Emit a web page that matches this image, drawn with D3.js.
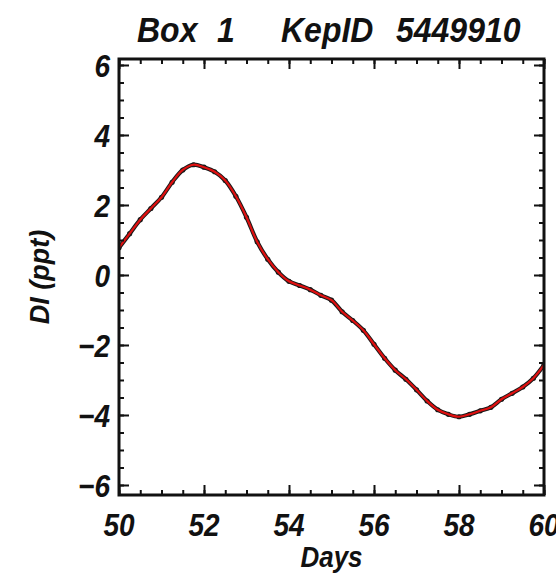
<!DOCTYPE html>
<html>
<head>
<meta charset="utf-8">
<script src="https://cdn.jsdelivr.net/npm/d3@7"></script>
<style>
  html, body { margin: 0; padding: 0; background: #ffffff; }
  svg { display: block; }
  text { font-family: "Liberation Sans", Arial, sans-serif; font-weight: bold; font-style: italic; fill: #111; }
</style>
</head>
<body>
<div id="chart"></div>
<script>
// ---- data ----
const days = [50.00, 50.25, 50.50, 50.75, 51.00, 51.25, 51.50, 51.75, 52.00, 52.25,
              52.50, 52.75, 53.00, 53.25, 53.50, 53.75, 54.00, 54.25, 54.50, 54.75,
              55.00, 55.25, 55.50, 55.75, 56.00, 56.25, 56.50, 56.75, 57.00, 57.25,
              57.50, 57.75, 58.00, 58.25, 58.50, 58.75, 59.00, 59.25, 59.50, 59.75, 60.00];
const dI = [0.78, 1.18, 1.58, 1.90, 2.22, 2.65, 3.00, 3.15, 3.08, 2.95,
            2.70, 2.25, 1.65, 0.95, 0.45, 0.08, -0.18, -0.30, -0.42, -0.58,
            -0.72, -1.05, -1.30, -1.58, -1.98, -2.38, -2.72, -2.98, -3.28, -3.60,
            -3.85, -3.98, -4.05, -3.98, -3.88, -3.78, -3.55, -3.38, -3.20, -2.95, -2.57];
const xTickValues = [50, 52, 54, 56, 58, 60];
const yTickValues = [-6, -4, -2, 0, 2, 4, 6];
const titleParts = ["Box", "1", "KepID", "5449910"];
const xLabel = "Days";
const yLabel = "DI (ppt)";

const W = 556, H = 578;
const plot = { left: 119, right: 544, top: 59, bottom: 495 };
const SY = 1.12; // vertical stretch of the lettering

const svg = d3.select("#chart").append("svg").attr("width", W).attr("height", H);

const x = d3.scaleLinear().domain([50, 60]).range([plot.left, plot.right]);
const y = d3.scaleLinear().domain([-6.286, 6.171]).range([plot.bottom, plot.top]);

const data = days.map((d, i) => ({ d, v: dI[i] }));

svg.append("clipPath").attr("id", "clip").append("rect")
  .attr("x", plot.left).attr("y", plot.top)
  .attr("width", plot.right - plot.left).attr("height", plot.bottom - plot.top);

const line = d3.line().x(p => x(p.d)).y(p => y(p.v)).curve(d3.curveCatmullRom.alpha(0.5));

const g = svg.append("g").attr("clip-path", "url(#clip)");
g.append("path").datum(data).attr("d", line)
  .attr("fill", "none").attr("stroke", "#1a1a1a").attr("stroke-width", 4.2)
  .attr("stroke-linejoin", "round");
g.selectAll("circle.pt").data(data).enter().append("circle")
  .attr("class", "pt").attr("cx", p => x(p.d)).attr("cy", p => y(p.v))
  .attr("r", 2.6).attr("fill", "#1a1a1a");
g.append("path").datum(data).attr("d", line)
  .attr("fill", "none").attr("stroke", "#e01010").attr("stroke-width", 2.2)
  .attr("stroke-linejoin", "round");

const xMinor = d3.range(50, 60.001, 0.5);
const yMinor = d3.range(-6, 6.001, 0.5);

function tickAxis(axisGen, transform) {
  const a = svg.append("g").attr("transform", transform).call(axisGen);
  a.select(".domain").remove();
  a.selectAll("line").attr("stroke", "#111").attr("stroke-width", 2);
  a.selectAll("text").remove();
  return a;
}
tickAxis(d3.axisBottom(x).tickValues(xMinor).tickSize(-5), `translate(0,${plot.bottom})`);
tickAxis(d3.axisBottom(x).tickValues(xTickValues).tickSize(-10), `translate(0,${plot.bottom})`);
tickAxis(d3.axisTop(x).tickValues(xMinor).tickSize(-5), `translate(0,${plot.top})`);
tickAxis(d3.axisTop(x).tickValues(xTickValues).tickSize(-10), `translate(0,${plot.top})`);
tickAxis(d3.axisLeft(y).tickValues(yMinor).tickSize(-5), `translate(${plot.left},0)`);
tickAxis(d3.axisLeft(y).tickValues(yTickValues).tickSize(-10), `translate(${plot.left},0)`);
tickAxis(d3.axisRight(y).tickValues(yMinor).tickSize(-5), `translate(${plot.right},0)`);
tickAxis(d3.axisRight(y).tickValues(yTickValues).tickSize(-10), `translate(${plot.right},0)`);

// stretched text helper (baseline at bx, by)
function label(bx, by, txt, size, anchor) {
  return svg.append("text")
    .attr("transform", `translate(${bx},${by}) scale(1,${SY})`)
    .attr("text-anchor", anchor || "start").attr("font-size", size).text(txt);
}
// tick labels
xTickValues.forEach(v => label(x(v), 536, String(v), 28, "middle"));
yTickValues.forEach(v => label(110, y(v) + 12, (v < 0 ? "\u2212" : "") + Math.abs(v), 28, "end"));

// frame
svg.append("rect").attr("x", plot.left).attr("y", plot.top)
  .attr("width", plot.right - plot.left).attr("height", plot.bottom - plot.top)
  .attr("fill", "none").attr("stroke", "#111").attr("stroke-width", 3);

// title
const title = svg.append("text").attr("transform", `translate(0,42) scale(1,${SY})`).attr("font-size", 32);
const titleX = [137, 217, 281, 396];
titleParts.forEach((t, i) => title.append("tspan").attr("x", titleX[i]).text(t));

// axis labels
label((plot.left + plot.right) / 2, 567, xLabel, 26, "middle");
svg.append("text").attr("transform", `translate(49,277) rotate(-90)`)
  .attr("text-anchor", "middle").attr("font-size", 27).text(yLabel);
</script>
</body>
</html>
